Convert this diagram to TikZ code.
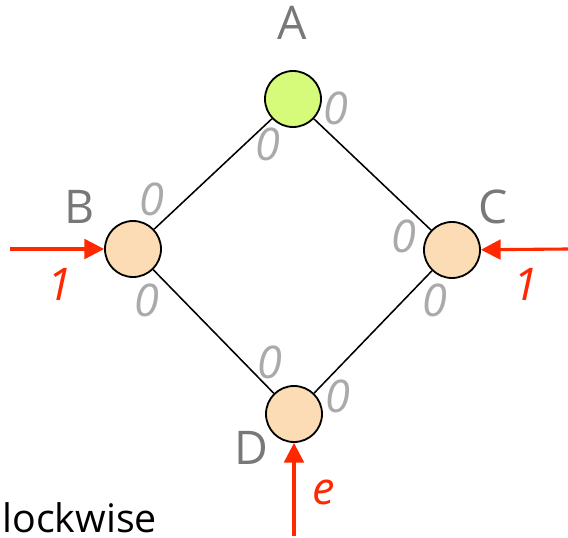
\documentclass[tikz,border=0pt]{standalone}
\usepackage{fontspec}
\setmainfont{Open Sans}
\usetikzlibrary{arrows.meta}
\definecolor{nodegreen}{RGB}{214,250,122}
\definecolor{nodepeach}{RGB}{252,220,180}
\definecolor{labelgray}{RGB}{120,120,120}
\definecolor{zerogray}{RGB}{170,170,170}
\definecolor{inred}{RGB}{255,40,0}
\begin{document}
\begin{tikzpicture}[
          x=0.025cm, y=-0.025cm,
          vertex/.style={
            circle, draw, line width=1.3pt, minimum size=56*0.025cm,
            inner sep=0pt, fill=nodepeach
          },
          start/.style={vertex, fill=nodegreen},
          vlabel/.style={font=\fontsize{33}{36}\selectfont, text=labelgray},
          weight/.style={font=\fontsize{32}{36}\selectfont\itshape, text=zerogray},
          inflow/.style={font=\fontsize{32}{36}\selectfont\itshape, text=inred},
          link/.style={line width=1.1pt},
          feed/.style={inred, line width=2.2pt, -{Triangle[length=14pt,width=14pt]}},
        ]
          \useasboundingbox (0,0) rectangle (568,538);

          % Vertices
          \node[start] (a) at (293, 99) {};
          \node[vertex] (b) at (133, 249) {};
          \node[vertex] (c) at (452, 250) {};
          \node[vertex] (d) at (294, 414) {};

          % Vertex names
          \node[vlabel] (la) at (292, 23) {A};
          \node[vlabel] (lb) at (80, 207) {B};
          \node[vlabel] (lc) at (493, 207) {C};
          \node[vlabel] (ld) at (251, 448) {D};

          % Edges
          \draw[link] (a) -- (b);
          \draw[link] (a) -- (c);
          \draw[link] (b) -- (d);
          \draw[link] (c) -- (d);

          % Edge weights
          \node[weight] (wab) at (268, 144) {0};
          \node[weight] (wac) at (336, 108) {0};
          \node[weight] (wba) at (152, 199) {0};
          \node[weight] (wbd) at (147, 300) {0};
          \node[weight] (wca) at (404, 236) {0};
          \node[weight] (wcd) at (435, 300) {0};
          \node[weight] (wdb) at (270, 362) {0};
          \node[weight] (wdc) at (338, 396) {0};

          % Incoming flows
          \coordinate (sb) at (10, 249);
          \coordinate (sc) at (568, 249);
          \coordinate (sd) at (294, 536);
          \draw[feed] (sb) -- (b);
          \draw[feed] (sc) -- (c);
          \draw[feed] (sd) -- (d);
          \node[inflow] (fb) at (60, 284) {1};
          \node[inflow] (fc) at (526, 284) {1};
          \node[inflow] (fd) at (324, 492) {e};

          % Caption fragment
          \node[font=\fontsize{28}{32}\selectfont, anchor=west, inner sep=0pt] (cap) at (2, 518) {lockwise};
        \end{tikzpicture}
\end{document}
